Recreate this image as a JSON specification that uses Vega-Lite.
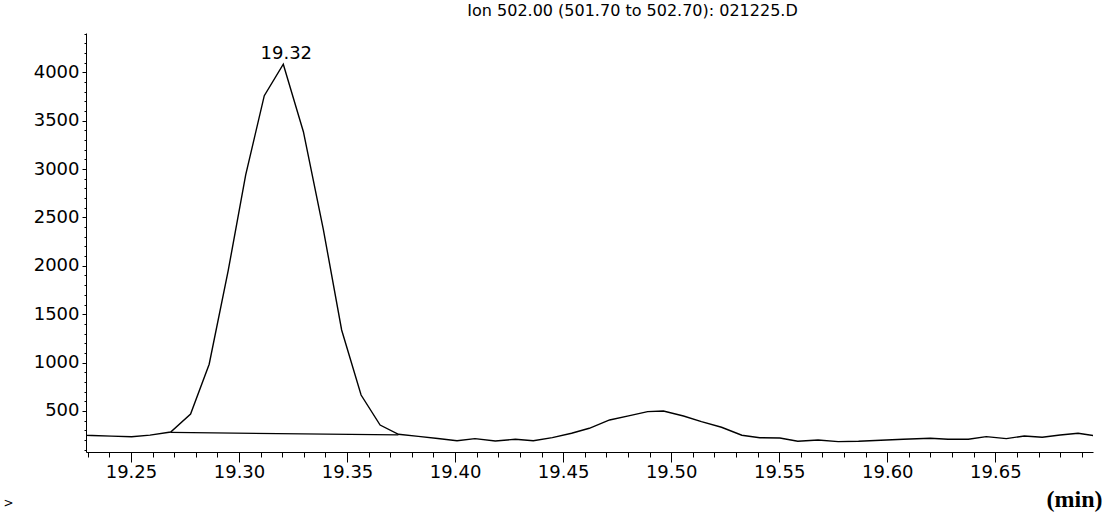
{
  "$schema": "https://vega.github.io/schema/vega-lite/v6.json",
  "autosize": {"type": "none"},
  "padding": {"left": 86, "top": 33, "right": 10, "bottom": 61},
  "width": 1007,
  "height": 419,
  "background": "white",
  "title": {
    "text": "Ion 502.00 (501.70 to 502.70): 021225.D",
    "font": "DejaVu Sans",
    "fontSize": 16,
    "fontWeight": "normal",
    "color": "black",
    "anchor": "middle",
    "dx": 43,
    "baseline": "alphabetic",
    "offset": 1
  },
  "config": {
    "view": {"stroke": null},
    "axis": {
      "domainColor": "black",
      "tickColor": "black",
      "labelColor": "black",
      "titleColor": "black",
      "grid": false,
      "labelFont": "DejaVu Sans",
      "titleFont": "DejaVu Sans",
      "labelFontWeight": "normal"
    }
  },
  "datasets": {
    "trace": [
      {"t": 19.2290, "v": 248},
      {"t": 19.2320, "v": 246},
      {"t": 19.2410, "v": 240},
      {"t": 19.2503, "v": 234},
      {"t": 19.2588, "v": 250},
      {"t": 19.2684, "v": 283},
      {"t": 19.2776, "v": 469},
      {"t": 19.2862, "v": 983},
      {"t": 19.2950, "v": 1950},
      {"t": 19.3031, "v": 2939},
      {"t": 19.3117, "v": 3758},
      {"t": 19.3205, "v": 4083},
      {"t": 19.3298, "v": 3386},
      {"t": 19.3390, "v": 2380},
      {"t": 19.3475, "v": 1337},
      {"t": 19.3565, "v": 665},
      {"t": 19.3653, "v": 355},
      {"t": 19.3738, "v": 259},
      {"t": 19.3830, "v": 238},
      {"t": 19.3920, "v": 215},
      {"t": 19.4009, "v": 193},
      {"t": 19.4092, "v": 214},
      {"t": 19.4186, "v": 190},
      {"t": 19.4279, "v": 208},
      {"t": 19.4362, "v": 193},
      {"t": 19.4450, "v": 225},
      {"t": 19.4539, "v": 270},
      {"t": 19.4621, "v": 321},
      {"t": 19.4715, "v": 407},
      {"t": 19.4808, "v": 452},
      {"t": 19.4891, "v": 493},
      {"t": 19.4964, "v": 500},
      {"t": 19.5057, "v": 448},
      {"t": 19.5140, "v": 390},
      {"t": 19.5233, "v": 332},
      {"t": 19.5327, "v": 249},
      {"t": 19.5410, "v": 224},
      {"t": 19.5503, "v": 221},
      {"t": 19.5586, "v": 187},
      {"t": 19.5680, "v": 200},
      {"t": 19.5773, "v": 183},
      {"t": 19.5867, "v": 187},
      {"t": 19.5970, "v": 197},
      {"t": 19.6074, "v": 208},
      {"t": 19.6199, "v": 218},
      {"t": 19.6281, "v": 208},
      {"t": 19.6375, "v": 208},
      {"t": 19.6458, "v": 235},
      {"t": 19.6551, "v": 214},
      {"t": 19.6634, "v": 242},
      {"t": 19.6717, "v": 228},
      {"t": 19.6800, "v": 252},
      {"t": 19.6883, "v": 270},
      {"t": 19.6955, "v": 245}
    ],
    "base": [
      {"t": 19.2684, "v": 278},
      {"t": 19.3738, "v": 254}
    ],
    "peak": [
      {"t": 19.3205, "v": 4083, "label": "19.32"}
    ]
  },
  "layer": [
    {
      "data": {"name": "trace"},
      "mark": {"type": "line", "color": "black", "strokeWidth": 1.4, "clip": true},
      "encoding": {
        "x": {
          "field": "t", "type": "quantitative",
          "scale": {"domain": [19.2292, 19.6952], "nice": false, "zero": false},
          "axis": {
            "orient": "bottom",
            "values": [19.25, 19.30, 19.35, 19.40, 19.45, 19.50, 19.55, 19.60, 19.65],
            "format": ".2f",
            "tickSize": 10,
            "labelPadding": 1,
            "labelFontSize": 18,
            "labelFlush": false,
            "title": "(min)",
            "titleFont": "Liberation Serif",
            "titleFontWeight": "bold",
            "titleFontSize": 24,
            "titleAlign": "right",
            "titleBaseline": "middle",
            "titleAnchor": null,
            "titleX": 1016,
            "titleY": 47
          }
        },
        "y": {
          "field": "v", "type": "quantitative",
          "scale": {"domain": [76, 4406], "nice": false, "zero": false},
          "axis": {
            "orient": "left",
            "values": [500, 1000, 1500, 2000, 2500, 3000, 3500, 4000],
            "format": "d",
            "tickSize": 4,
            "labelPadding": 3,
            "labelFontSize": 18,
            "title": ">",
            "titleAngle": 0,
            "titleFontSize": 12,
            "titleFontWeight": "normal",
            "titleAlign": "center",
            "titleBaseline": "middle",
            "titleAnchor": null,
            "titleX": -78,
            "titleY": 469
          }
        }
      }
    },
    {
      "data": {"name": "base"},
      "mark": {"type": "line", "color": "black", "strokeWidth": 1.3},
      "encoding": {
        "x": {
          "field": "t", "type": "quantitative",
          "axis": {
            "orient": "bottom",
            "values": [19.23, 19.24, 19.26, 19.27, 19.28, 19.29, 19.31, 19.32, 19.33, 19.34, 19.36, 19.37, 19.38, 19.39, 19.41, 19.42, 19.43, 19.44, 19.46, 19.47, 19.48, 19.49, 19.51, 19.52, 19.53, 19.54, 19.56, 19.57, 19.58, 19.59, 19.61, 19.62, 19.63, 19.64, 19.66, 19.67, 19.68, 19.69],
            "labels": false,
            "domain": false,
            "tickSize": 5,
            "title": null
          }
        },
        "y": {
          "field": "v", "type": "quantitative",
          "axis": {
            "orient": "left",
            "values": [100, 200, 300, 400, 600, 700, 800, 900, 1100, 1200, 1300, 1400, 1600, 1700, 1800, 1900, 2100, 2200, 2300, 2400, 2600, 2700, 2800, 2900, 3100, 3200, 3300, 3400, 3600, 3700, 3800, 3900, 4100, 4200, 4300, 4400],
            "labels": false,
            "domain": false,
            "tickSize": 2,
            "title": null
          }
        }
      }
    },
    {
      "data": {"name": "peak"},
      "mark": {"type": "text", "font": "DejaVu Sans", "fontSize": 18, "color": "black", "baseline": "alphabetic", "align": "center", "dy": -5, "dx": 3},
      "encoding": {
        "x": {"field": "t", "type": "quantitative", "axis": null},
        "y": {"field": "v", "type": "quantitative", "axis": null},
        "text": {"field": "label"}
      }
    }
  ],
  "resolve": {"axis": {"x": "independent", "y": "independent"}}
}
